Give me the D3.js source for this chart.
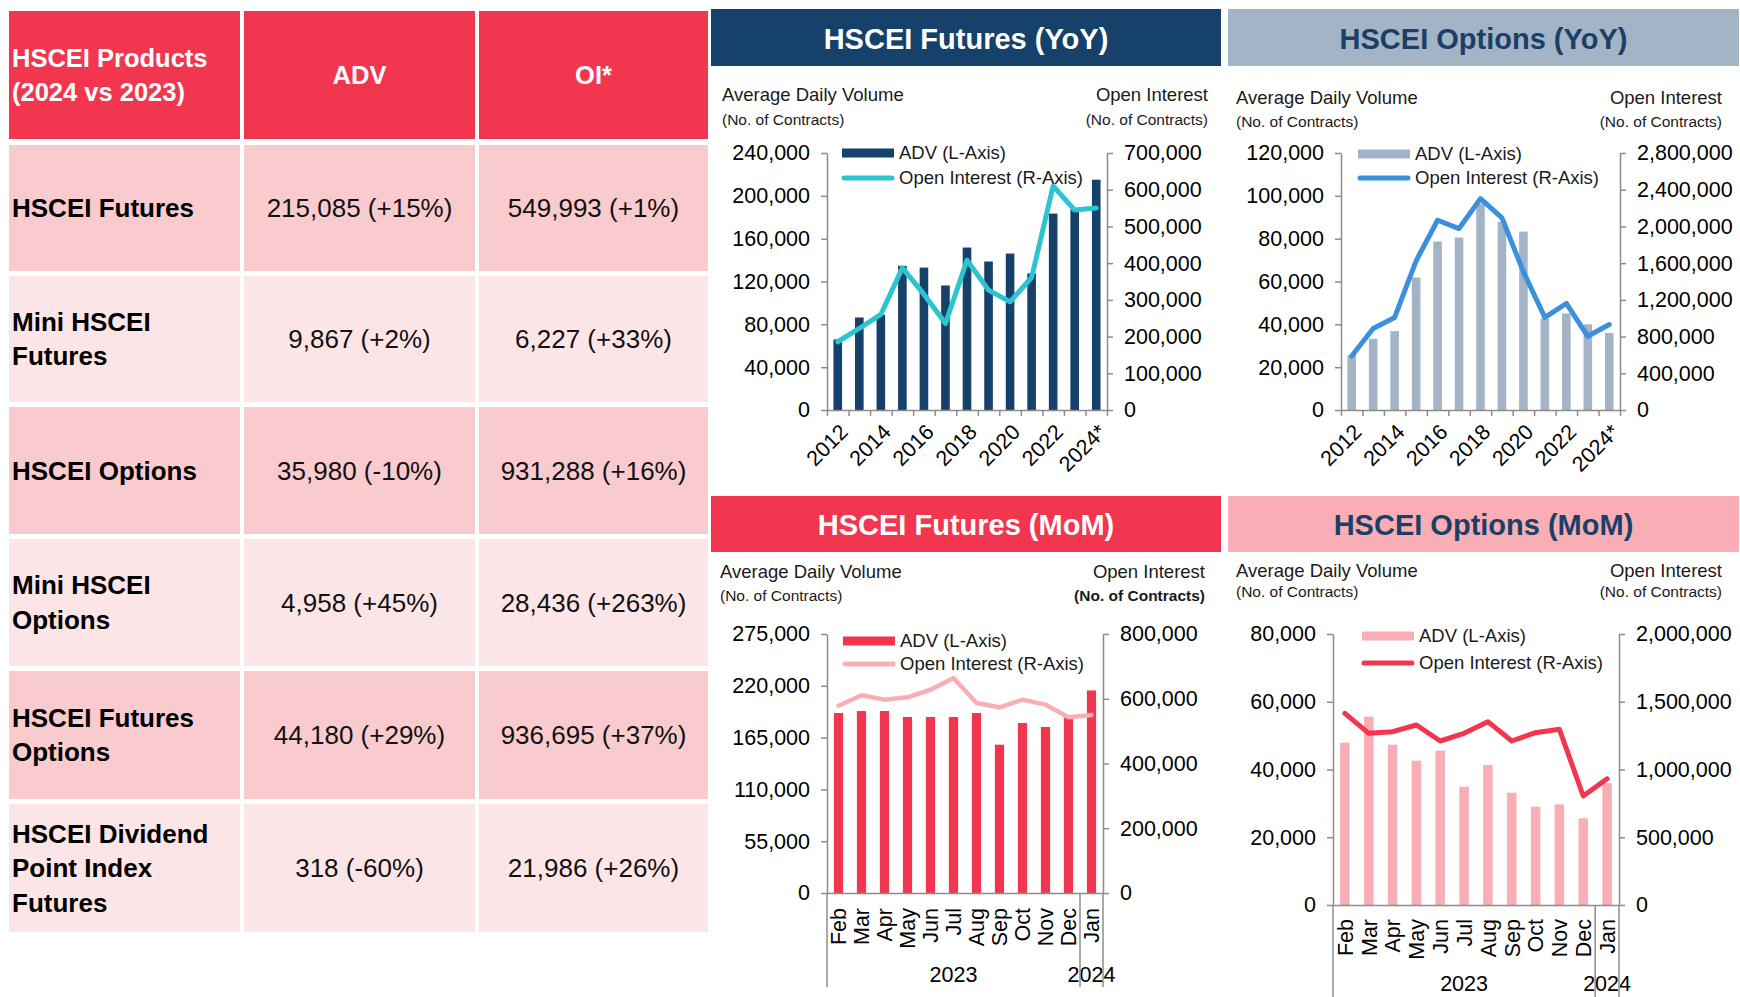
<!DOCTYPE html>
<html>
<head>
<meta charset="utf-8">
<script src="https://cdn.jsdelivr.net/npm/d3@7"></script>
<style>
  body { margin: 0; background: #fff; }
  svg { display: block; font-family: Arial, "Liberation Sans", sans-serif; }
</style>
</head>
<body>
<svg id="chart" width="1740" height="997"></svg>
<script>
// ---- table data
const tableHead = [['HSCEI Products', '(2024 vs 2023)'], ['ADV'], ['OI*']];
const products = [['HSCEI Futures'], ['Mini HSCEI', 'Futures'], ['HSCEI Options'],
  ['Mini HSCEI', 'Options'], ['HSCEI Futures', 'Options'], ['HSCEI Dividend', 'Point Index', 'Futures']];
const advText = ['215,085 (+15%)', '9,867 (+2%)', '35,980 (-10%)', '4,958 (+45%)', '44,180 (+29%)', '318 (-60%)'];
const oiText = ['549,993 (+1%)', '6,227 (+33%)', '931,288 (+16%)', '28,436 (+263%)', '936,695 (+37%)', '21,986 (+26%)'];

// ---- chart data
const years = ['2012', '2013', '2014', '2015', '2016', '2017', '2018', '2019', '2020', '2021', '2022', '2023', '2024*'];
const months = ['Feb', 'Mar', 'Apr', 'May', 'Jun', 'Jul', 'Aug', 'Sep', 'Oct', 'Nov', 'Dec', 'Jan'];
const monthYears = ['2023', '2023', '2023', '2023', '2023', '2023', '2023', '2023', '2023', '2023', '2023', '2024'];

const futYoyAdv = [65900, 86400, 89000, 134600, 133000, 116300, 151700, 138700, 146100, 127500, 183400, 187000, 215085];
const futYoyOi = [185900, 222000, 260200, 387200, 315500, 235700, 408000, 326400, 294700, 360900, 610200, 544500, 549993];
const optYoyAdv = [25650, 33260, 36840, 61870, 78650, 80520, 96400, 87820, 83320, 42700, 45080, 40000, 35980];
const optYoyOi = [587600, 888600, 1008300, 1624900, 2067400, 1976700, 2303100, 2092700, 1505200, 1008300, 1160600, 802800, 931288];
const futMomAdv = [191100, 193200, 193200, 186900, 186900, 186900, 191100, 157500, 180500, 176300, 186000, 215085];
const futMomOi = [578600, 610600, 597200, 604400, 628100, 664100, 586900, 573500, 597200, 581700, 542600, 549993];
const optMomAdv = [47920, 55600, 47330, 42610, 45560, 34930, 41330, 33160, 29030, 29720, 25580, 35980];
const optMomOi = [1414500, 1266900, 1279200, 1328400, 1210300, 1266900, 1353000, 1210300, 1271800, 1296400, 804400, 931288];

const RED = '#F2364F', PINK = '#F9AEB6', NAVY = '#16416A', GREYBLUE = '#A2B4C6';
const svg = d3.select('#chart');

// ---- table
const colX = [[9, 240], [244, 475], [479, 708]];
const rowY = [[11, 139], [145, 271], [276, 402], [407, 534], [539, 666], [671, 799], [804, 932]];
const rowFill = ['#F9CBCE', '#FCE5E7'];

const tbl = svg.append('g');
colX.forEach((c, j) => {
  tbl.append('rect').attr('x', c[0]).attr('y', rowY[0][0])
    .attr('width', c[1] - c[0]).attr('height', rowY[0][1] - rowY[0][0]).attr('fill', RED);
  const lines = tableHead[j];
  const cy = (rowY[0][0] + rowY[0][1]) / 2;
  lines.forEach((t, k) => {
    tbl.append('text')
      .attr('x', j === 0 ? 12 : (c[0] + c[1]) / 2)
      .attr('y', cy + 9 + (k - (lines.length - 1) / 2) * 34)
      .attr('text-anchor', j === 0 ? 'start' : 'middle')
      .attr('font-size', 25.5).attr('font-weight', 'bold').attr('fill', '#fff').text(t);
  });
});
products.forEach((p, i) => {
  const r = rowY[i + 1];
  const cy = (r[0] + r[1]) / 2;
  colX.forEach(c => {
    tbl.append('rect').attr('x', c[0]).attr('y', r[0])
      .attr('width', c[1] - c[0]).attr('height', r[1] - r[0]).attr('fill', rowFill[i % 2]);
  });
  p.forEach((t, k) => {
    tbl.append('text').attr('x', 12).attr('y', cy + 9 + (k - (p.length - 1) / 2) * 34.5)
      .attr('font-size', 26).attr('font-weight', 'bold').attr('fill', '#000').text(t);
  });
  [advText[i], oiText[i]].forEach((t, j) => {
    const c = colX[j + 1];
    tbl.append('text').attr('x', (c[0] + c[1]) / 2).attr('y', cy + 9)
      .attr('text-anchor', 'middle').attr('font-size', 26).attr('fill', '#111').text(t);
  });
});

// ---- charts
const panels = [
  { title: 'HSCEI Futures (YoY)', box: [711, 9, 1221, 66], boxFill: NAVY, titleColor: '#fff', titleBase: 49,
    plot: { l: 827, r: 1107, t: 153, b: 410 }, lMax: 240000, lStep: 40000, rMax: 700000, rStep: 100000,
    sub: { lx: 722, rx: 1208, y1: 101, y2: 125 }, legend: { x: 842, y1: 153, y2: 178 },
    barColor: NAVY, lineColor: '#2BC4D0', cats: years, adv: futYoyAdv, oi: futYoyOi, mode: 'yoy' },
  { title: 'HSCEI Options (YoY)', box: [1228, 9, 1739, 66], boxFill: GREYBLUE, titleColor: '#1B3F66', titleBase: 49,
    plot: { l: 1341, r: 1620, t: 153, b: 410 }, lMax: 120000, lStep: 20000, rMax: 2800000, rStep: 400000,
    sub: { lx: 1236, rx: 1722, y1: 104, y2: 127 }, legend: { x: 1358, y1: 154, y2: 178 },
    barColor: GREYBLUE, lineColor: '#3B8FDC', cats: years, adv: optYoyAdv, oi: optYoyOi, mode: 'yoy' },
  { title: 'HSCEI Futures (MoM)', box: [711, 496, 1221, 552], boxFill: RED, titleColor: '#fff', titleBase: 535,
    plot: { l: 827, r: 1103, t: 634, b: 893 }, lMax: 275000, lStep: 55000, rMax: 800000, rStep: 200000,
    sub: { lx: 720, rx: 1205, y1: 578, y2: 601, bold2: true }, legend: { x: 843, y1: 641, y2: 664 },
    barColor: RED, lineColor: PINK, lineWidth: 4.5, cats: months, adv: futMomAdv, oi: futMomOi, mode: 'mom',
    monthTop: 908, yearBase: 982, sepBottom: 987 },
  { title: 'HSCEI Options (MoM)', box: [1228, 496, 1739, 552], boxFill: PINK, titleColor: '#1B3F66', titleBase: 535,
    plot: { l: 1333, r: 1619, t: 634, b: 905 }, lMax: 80000, lStep: 20000, rMax: 2000000, rStep: 500000,
    sub: { lx: 1236, rx: 1722, y1: 577, y2: 597 }, legend: { x: 1362, y1: 636, y2: 663 },
    barColor: PINK, lineColor: RED, cats: months, adv: optMomAdv, oi: optMomOi, mode: 'mom',
    monthTop: 919, yearBase: 991, sepBottom: 997 }
];

const AXIS = '#8C8C8C';
const fmt = d3.format(',');

panels.forEach(p => {
  const g = svg.append('g');
  const [bx0, by0, bx1, by1] = p.box;
  g.append('rect').attr('x', bx0).attr('y', by0).attr('width', bx1 - bx0).attr('height', by1 - by0).attr('fill', p.boxFill);
  g.append('text').attr('x', (bx0 + bx1) / 2).attr('y', p.titleBase).attr('text-anchor', 'middle')
    .attr('font-size', 29).attr('font-weight', 'bold').attr('fill', p.titleColor).text(p.title);

  // axis titles
  const s = p.sub;
  g.append('text').attr('x', s.lx).attr('y', s.y1).attr('font-size', 18.5).attr('fill', '#1a1a1a').text('Average Daily Volume');
  g.append('text').attr('x', s.lx).attr('y', s.y2).attr('font-size', 15.5).attr('fill', '#1a1a1a').text('(No. of Contracts)');
  g.append('text').attr('x', s.rx).attr('y', s.y1).attr('text-anchor', 'end').attr('font-size', 18.5).attr('fill', '#1a1a1a').text('Open Interest');
  g.append('text').attr('x', s.rx).attr('y', s.y2).attr('text-anchor', 'end').attr('font-size', 15.5)
    .attr('font-weight', s.bold2 ? 'bold' : 'normal').attr('fill', '#1a1a1a').text('(No. of Contracts)');

  const pl = p.plot;
  const x = d3.scaleBand().domain(p.cats).range([pl.l, pl.r]).paddingInner(0).paddingOuter(0);
  const bw = x.bandwidth();
  const yL = d3.scaleLinear().domain([0, p.lMax]).range([pl.b, pl.t]);
  const yR = d3.scaleLinear().domain([0, p.rMax]).range([pl.b, pl.t]);

  // bars
  g.append('g').selectAll('rect').data(p.adv).enter().append('rect')
    .attr('x', (d, i) => x(p.cats[i]) + bw * 0.3)
    .attr('y', d => yL(d))
    .attr('width', bw * 0.4)
    .attr('height', d => yL(0) - yL(d))
    .attr('fill', p.barColor);

  // axes
  const styleAxis = sel => {
    sel.selectAll('path, line').attr('stroke', AXIS).attr('stroke-width', 1.5);
    sel.selectAll('text').attr('font-size', 21.5).attr('fill', '#000').attr('font-family', 'Arial, "Liberation Sans", sans-serif');
  };
  g.append('g').attr('transform', `translate(${pl.l},0)`)
    .call(d3.axisLeft(yL).tickValues(d3.range(0, p.lMax + 1, p.lStep)).tickFormat(fmt).tickSize(6).tickSizeOuter(0).tickPadding(11))
    .call(styleAxis);
  g.append('g').attr('transform', `translate(${pl.r},0)`)
    .call(d3.axisRight(yR).tickValues(d3.range(0, p.rMax + 1, p.rStep)).tickFormat(fmt).tickSize(6).tickSizeOuter(0).tickPadding(11))
    .call(styleAxis);

  const n = p.cats.length;
  const xb = d3.scaleLinear().domain([0, n]).range([pl.l, pl.r]);
  if (p.mode === 'yoy') {
    g.append('g').attr('transform', `translate(0,${pl.b})`)
      .call(d3.axisBottom(xb).tickValues(d3.range(n + 1)).tickFormat('').tickSize(6).tickSizeOuter(0))
      .call(styleAxis);
    g.append('g').selectAll('text').data(p.cats.filter((d, i) => i % 2 === 0)).enter().append('text')
      .attr('transform', d => `translate(${x(d) + bw / 2 + 6},${pl.b + 18}) rotate(-45)`)
      .attr('text-anchor', 'end').attr('dy', '0.35em').attr('font-size', 21.5).attr('fill', '#000').text(d => d);
  } else {
    g.append('g').attr('transform', `translate(0,${pl.b})`)
      .call(d3.axisBottom(xb).tickValues([]).tickSizeOuter(0))
      .call(styleAxis);
    g.append('g').selectAll('text').data(p.cats).enter().append('text')
      .attr('transform', d => `translate(${x(d) + bw / 2},${p.monthTop}) rotate(-90)`)
      .attr('text-anchor', 'end').attr('dy', '0.36em').attr('font-size', 21.5).attr('fill', '#000').text(d => d);
    // year groups
    const groups = d3.groups(p.cats.map((c, i) => ({ c, y: monthYears[i], i })), d => d.y);
    const seps = [0];
    groups.forEach(([yr, items]) => {
      const i0 = items[0].i, i1 = items[items.length - 1].i + 1;
      seps.push(i1);
      g.append('text').attr('x', (xb(i0) + xb(i1)) / 2).attr('y', p.yearBase).attr('text-anchor', 'middle')
        .attr('font-size', 21.5).attr('fill', '#000').text(yr);
    });
    g.append('g').selectAll('line').data(seps).enter().append('line')
      .attr('x1', d => xb(d)).attr('x2', d => xb(d)).attr('y1', pl.b).attr('y2', p.sepBottom)
      .attr('stroke', AXIS).attr('stroke-width', 1.5);
  }

  // OI line
  const line = d3.line().x((d, i) => x(p.cats[i]) + bw / 2).y(d => yR(d));
  g.append('path').datum(p.oi).attr('d', line).attr('fill', 'none')
    .attr('stroke', p.lineColor).attr('stroke-width', p.lineWidth || 5)
    .attr('stroke-linejoin', 'round').attr('stroke-linecap', 'round');

  // legend
  const L = p.legend;
  g.append('rect').attr('x', L.x).attr('y', L.y1 - 4.5).attr('width', 52).attr('height', 9).attr('fill', p.barColor);
  g.append('line').attr('x1', L.x + 2).attr('x2', L.x + 50).attr('y1', L.y2).attr('y2', L.y2)
    .attr('stroke', p.lineColor).attr('stroke-width', 5).attr('stroke-linecap', 'round');
  g.append('text').attr('x', L.x + 57).attr('y', L.y1).attr('dy', '0.35em').attr('font-size', 18.5).attr('fill', '#1a1a1a').text('ADV (L-Axis)');
  g.append('text').attr('x', L.x + 57).attr('y', L.y2).attr('dy', '0.35em').attr('font-size', 18.5).attr('fill', '#1a1a1a').text('Open Interest (R-Axis)');
});
</script>
</body>
</html>
